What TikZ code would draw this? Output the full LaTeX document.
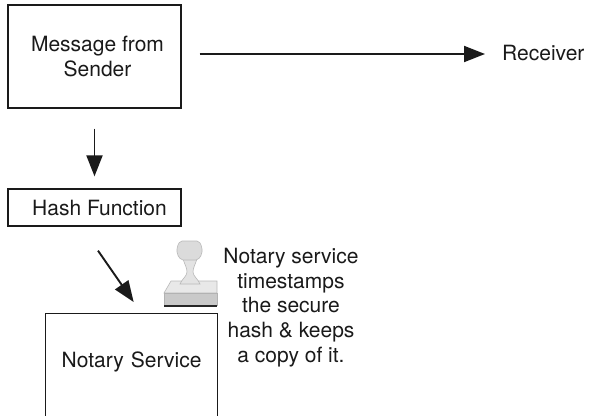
\documentclass[tikz,border=0pt]{standalone}
\usepackage{fontspec}
\setmainfont{TeX Gyre Heros}
\usetikzlibrary{arrows.meta}
\definecolor{ink}{HTML}{1A1A1A}
\tikzset{
  box/.style={draw=ink, line width=1.3pt, inner sep=0pt, align=center,
    font=\fontsize{21}{24.5}\selectfont, text=ink},
  lbl/.style={inner sep=0pt, align=center,
    font=\fontsize{21}{24.7}\selectfont, text=ink},
  arr/.style={draw=ink, line width=1.9pt,
    -{Triangle[length=21pt,width=16pt]}},
  stampface/.style={fill=gray!18, draw=gray!55, line width=0.6pt},
  stampside/.style={fill=gray!42, draw=gray!60, line width=0.6pt}
}
\begin{document}
\begin{tikzpicture}[x=1pt, y=-1pt]
  \clip (0,0) rectangle (593,415);
  \fill[white] (0,0) rectangle (593,415);

  % boxes
  \node[box, minimum width=173pt, minimum height=103pt] (msg) at (94.5,56.5)
    {\hspace*{6pt}Message from\\\hspace*{6pt}Sender};
  \node[box, minimum width=173pt, minimum height=37pt] (hash) at (94.5,207.5)
    {\hspace*{10pt}Hash Function};
  \node[box, anchor=north west, text width=172pt, text height=54pt,
    text depth=60pt] (notary) at (45,313) {Notary Service};

  % receiver and caption
  \node[lbl, anchor=west] (rcv) at (502,53) {Receiver};
  \node[lbl, anchor=north] (note) at (291,248) 
    {Notary service\\timestamps\\the secure\\hash \& keeps\\a copy of it.};

  % connectors
  \draw[arr] ([xshift=18pt, yshift=2.5pt]msg.east) -- ([xshift=-17pt, yshift=-1pt]rcv.west);
  \draw[arr] ([yshift=-20pt]msg.south) -- ([yshift=12pt]hash.north);
  \draw[arr] ([xshift=3.5pt, yshift=-24pt]hash.south) -- ([xshift=2pt, yshift=11pt]notary.north);

  % rubber stamp
  \filldraw[stampface] (171,281) -- (217,281) -- (217,293) -- (164,293) -- cycle;
  \filldraw[stampside] (164,293) rectangle (217,305);
  \draw[gray!30!black, line width=1.5pt] (164,306) -- (217,306);
  \filldraw[stampface, fill=gray!22]
    (183,259) .. controls (185,265) and (187,268) .. (187,272)
    .. controls (187,276) and (182,279) .. (180,284) -- (200,284)
    .. controls (198,279) and (193,276) .. (193,272)
    .. controls (193,268) and (195,265) .. (197,259) -- cycle;
  \filldraw[stampface, fill=gray!28, rounded corners=2pt]
    (180,241) -- (199,241) -- (202,247) -- (202,254) -- (198,260)
    -- (181,260) -- (177,254) -- (177,247) -- cycle;
\end{tikzpicture}
\end{document}
